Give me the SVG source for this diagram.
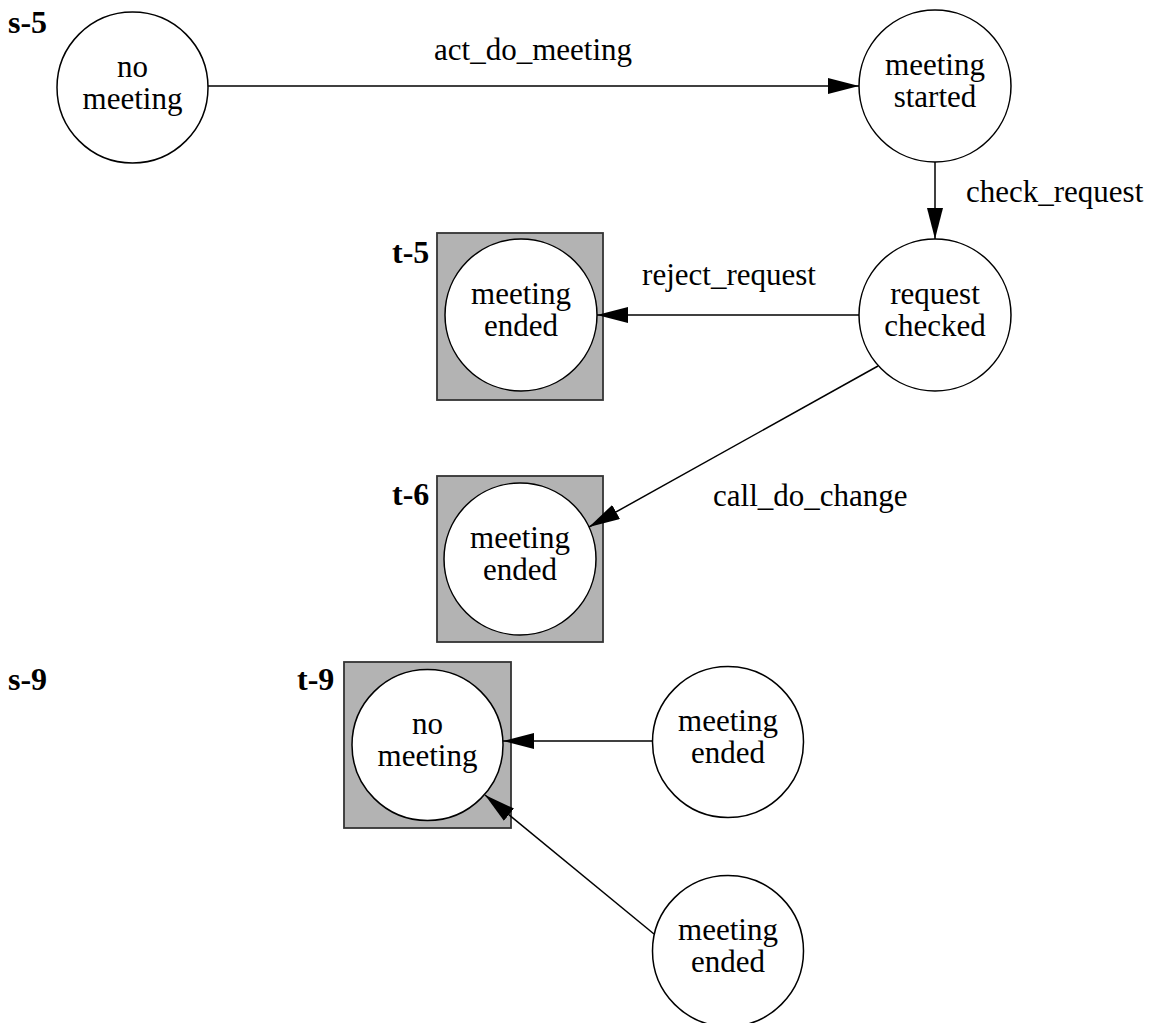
<svg xmlns="http://www.w3.org/2000/svg" width="1157" height="1023" viewBox="0 0 1157 1023">
<style>
  .bg { fill: #ffffff; }
  .st { fill: #ffffff; stroke: #000000; stroke-width: 1.5; }
  .box { fill: #b3b3b3; stroke: #333333; stroke-width: 1.8; }
  .t { font-family: "Liberation Serif", "Times New Roman", serif; font-size: 31px; fill: #000000; text-anchor: middle; }
  .lab { font-family: "Liberation Serif", "Times New Roman", serif; font-size: 31px; fill: #000000; }
  .sec { font-family: "Liberation Serif", "Times New Roman", serif; font-size: 32px; font-weight: bold; fill: #000000; }
  .edge { fill: none; stroke: #000000; stroke-width: 1.5; marker-end: url(#arrow); }
</style>
<defs>
  <marker id="arrow" markerUnits="userSpaceOnUse" markerWidth="32" markerHeight="17" refX="31" refY="8" orient="auto">
    <path d="M0,0 L31,8 L0,16 z" fill="#000000"/>
  </marker>
</defs>
<rect class="bg" x="0" y="0" width="1157" height="1023"/>

<g id="s-5">
  <text class="sec" x="8" y="33">s-5</text>
  <g id="s5-no-meeting">
    <circle class="st" cx="132.5" cy="87.5" r="75.5"/>
    <text class="t" x="132.5" y="77">no</text>
    <text class="t" x="132.5" y="109">meeting</text>
  </g>
  <g id="s5-meeting-started">
    <circle class="st" cx="935" cy="86" r="76"/>
    <text class="t" x="935" y="75">meeting</text>
    <text class="t" x="935" y="107">started</text>
  </g>
  <g id="s5-request-checked">
    <circle class="st" cx="935" cy="315" r="76"/>
    <text class="t" x="935" y="304">request</text>
    <text class="t" x="935" y="336">checked</text>
  </g>
</g>

<g id="t-5">
  <text class="sec" x="392" y="263">t-5</text>
  <rect class="box" x="437" y="233" width="166" height="167"/>
  <circle class="st" cx="521" cy="315" r="76"/>
  <text class="t" x="521" y="304">meeting</text>
  <text class="t" x="521" y="336">ended</text>
</g>

<g id="t-6">
  <text class="sec" x="392" y="505">t-6</text>
  <rect class="box" x="437" y="476" width="166" height="166"/>
  <circle class="st" cx="520" cy="559" r="76"/>
  <text class="t" x="520" y="548">meeting</text>
  <text class="t" x="520" y="580">ended</text>
</g>

<g id="s-9">
  <text class="sec" x="8" y="690">s-9</text>
  <g id="s9-ended-1">
    <circle class="st" cx="728" cy="742" r="75.5"/>
    <text class="t" x="728" y="731">meeting</text>
    <text class="t" x="728" y="763">ended</text>
  </g>
  <g id="s9-ended-2">
    <circle class="st" cx="728" cy="951" r="75.5"/>
    <text class="t" x="728" y="940">meeting</text>
    <text class="t" x="728" y="972">ended</text>
  </g>
</g>

<g id="t-9">
  <text class="sec" x="297" y="690">t-9</text>
  <rect class="box" x="344" y="662" width="167" height="166"/>
  <circle class="st" cx="427.5" cy="745" r="75.5"/>
  <text class="t" x="427.5" y="734">no</text>
  <text class="t" x="427.5" y="766">meeting</text>
</g>

<g id="connectors">
  <line class="edge" x1="208" y1="86" x2="859" y2="86"/>
  <line class="edge" x1="935" y1="162" x2="935" y2="239"/>
  <line class="edge" x1="859" y1="315" x2="597" y2="315"/>
  <line class="edge" x1="878" y1="366" x2="589" y2="527"/>
  <line class="edge" x1="653" y1="741" x2="503" y2="741"/>
  <line class="edge" x1="654" y1="934" x2="485" y2="795"/>
  <text class="t" x="533" y="60">act_do_meeting</text>
  <text class="lab" x="966" y="202">check_request</text>
  <text class="t" x="729" y="285">reject_request</text>
  <text class="lab" x="713" y="506">call_do_change</text>
</g>
</svg>
